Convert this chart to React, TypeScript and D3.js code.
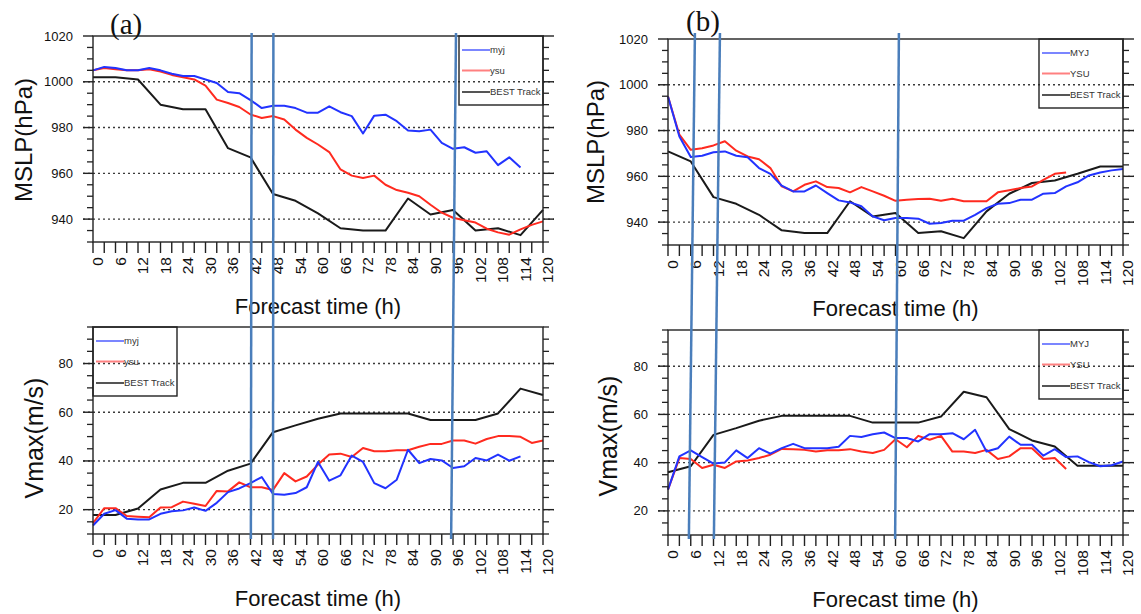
import React from "react";
import * as d3 from "d3";

// ---------- data ----------
const HOURS_MAX = 120;
const STEP_MODEL = 3; // model output every 3 h
const STEP_BEST = 6; // best track every 6 h
const xTickLabels = [0, 6, 12, 18, 24, 30, 36, 42, 48, 54, 60, 66, 72, 78, 84, 90, 96, 102, 108, 114, 120];

const mslpTicks = [940, 960, 980, 1000, 1020];
const vmaxTicks = [20, 40, 60, 80];

// (a) MSLP
const mslpA_myj = [1005, 1006.5, 1006, 1005, 1005, 1006, 1005, 1003.5, 1002.5, 1002.5, 1001, 999.5, 995.5, 995, 992, 988.5, 989.5, 989.5, 988.5, 986.5, 986.5, 989.3, 986.7, 985, 977.4, 985.2, 985.6, 982.8, 978.7, 978.4, 979.1, 973.3, 970.7, 971.4, 969, 969.6, 963.6, 967, 962.5];
const mslpA_ysu = [1005, 1006, 1005.5, 1005, 1005, 1005.5, 1004.5, 1003, 1002, 1001, 998.3, 992.2, 990.7, 989, 985.7, 984.2, 985, 983.5, 979.1, 975.5, 972.6, 969.3, 961.7, 959, 958, 959, 955, 952.7, 951.5, 950, 946.3, 942.8, 940.6, 939.5, 938.5, 935.8, 934.2, 933.2, 935.5, 937.5, 939];
const mslpA_best = [1002, 1002, 1001, 990, 988, 988, 971, 967, 951, 948, 942.5, 936, 935, 935, 949, 942, 944, 935, 936, 933, 944];

// (a) Vmax
const vmaxA_myj = [13.5, 18.3, 19.8, 16.3, 16, 16, 18.3, 19.3, 19.7, 20.9, 19.5, 22.8, 27.2, 28.7, 30.9, 33.4, 26.4, 26.1, 26.8, 29.2, 39.6, 31.9, 34.1, 42.2, 39.6, 30.9, 28.8, 32.3, 44.6, 39.1, 40.8, 40.2, 37.1, 37.8, 41.2, 40.2, 42.6, 40.1, 41.9];
const vmaxA_ysu = [14.5, 20.6, 20.6, 17.4, 17.1, 16.9, 20.9, 21, 23.3, 22.4, 21.5, 27.7, 27.5, 31.2, 29.2, 29.2, 28.1, 35, 31.6, 33.6, 38.5, 42.6, 43, 41.6, 45.3, 44, 44, 44.4, 44.4, 45.8, 47, 47, 48.4, 48.4, 47.1, 49, 50.2, 50.2, 49.9, 47.4, 48.4];
const vmaxA_best = [17.8, 17.8, 20.5, 28.3, 31, 31, 36, 38.9, 51.8, 54.6, 57.3, 59.5, 59.5, 59.5, 59.5, 56.8, 56.8, 56.8, 59.5, 69.7, 67.1];

// (b) MSLP
const mslpB_myj = [994.9, 977.4, 968.4, 969, 970.5, 970.9, 969, 968.3, 963.6, 961.1, 955.9, 953.4, 953.4, 956, 952.7, 949.5, 948.6, 946.9, 942.5, 940.8, 941.8, 941.8, 941.5, 939.3, 939.6, 940.6, 940.6, 943.2, 946.1, 948, 948.3, 949.8, 949.8, 952.4, 952.7, 955.6, 957.4, 960.4, 961.7, 962.6, 963.2];
const mslpB_ysu = [994.9, 978.2, 971.6, 972.3, 973.5, 975.3, 971.2, 968.7, 967.5, 963.6, 955.6, 953.4, 956.3, 957.8, 955.3, 954.9, 953, 955.3, 953.4, 951.5, 949.3, 949.8, 950.1, 950.2, 949.3, 950.2, 949.1, 949.1, 949.1, 953, 953.9, 954.9, 955.6, 958.5, 961.1, 961.7];
const mslpB_best = [970.9, 966.5, 950.9, 948, 943.2, 936.4, 935.2, 935.2, 949.1, 942.5, 944, 935.2, 936, 933, 944.7, 952.4, 957.1, 958.2, 961.1, 964.3, 964.3];

// (b) Vmax
const vmaxB_myj = [28.8, 42.6, 45.1, 42.3, 39.6, 40.1, 45.1, 41.9, 46, 43.7, 46, 47.8, 46, 46, 46, 46.6, 51.1, 50.6, 51.8, 52.5, 50.2, 50.2, 48.8, 51.8, 51.8, 52.2, 49.7, 53.6, 44.6, 46, 50.8, 47.4, 47.4, 42.9, 45.6, 42.3, 42.6, 40.2, 38.5, 38.9, 40.5];
const vmaxB_ysu = [28.8, 41.9, 41.5, 37.8, 39.1, 37.8, 40.5, 40.9, 41.9, 43.3, 45.7, 45.6, 45.3, 44.6, 45.1, 45.1, 45.6, 44.6, 44, 45.3, 49.7, 46.4, 51.1, 49.5, 51.1, 44.6, 44.6, 44, 45.3, 41.5, 42.6, 46, 46, 41.5, 41.9, 37.4];
const vmaxB_best = [36, 38.5, 51.5, 54.3, 57.4, 59.4, 59.4, 59.4, 59.4, 56.6, 56.6, 56.6, 59.1, 69.4, 67.1, 53.9, 49.2, 46.7, 38.7, 38.7, 38.7];

// hand-drawn marker lines (forecast hour at top / bottom)
const markersA = [[42.3, 42.1], [48.1, 48.0], [96.8, 95.5]];
const markersB = [[7.1, 5.5], [13.7, 12.1], [60.9, 59.9]];

const legendA = ["myj", "ysu", "BEST Track"];
const legendB = ["MYJ", "YSU", "BEST Track"];

// ---------- style ----------
const SANS = "'Liberation Sans', Arial, Helvetica, sans-serif";
const SERIF = "'Liberation Serif', 'Times New Roman', serif";
const C_BLUE = "#2233ff";
const C_RED = "#ff2a1f";
const C_BLACK = "#1a1a1a";
const LEG_COLORS = ["#7b86ff", "#ff8080", "#555"];
const C_MARK = "#4a7ebb";

type Panel = {
  x0: number; x1: number; y0: number; y1: number;
  domain: [number, number];
  ticks: number[];
  title: string;
  titleX: number; titleY: number; titleSize: number;
  xTitleY: number;
  legendSide: "left" | "right";
  legend: string[];
  myj: number[]; ysu: number[]; best: number[];
};

const panels: Panel[] = [
  { x0: 93, x1: 543, y0: 36, y1: 242, domain: [930, 1020], ticks: mslpTicks, title: "MSLP(hPa)", titleX: 32, titleY: 140, titleSize: 24, xTitleY: 314, legendSide: "right", legend: legendA, myj: mslpA_myj, ysu: mslpA_ysu, best: mslpA_best },
  { x0: 93, x1: 543, y0: 327, y1: 534, domain: [10, 95], ticks: vmaxTicks, title: "Vmax(m/s)", titleX: 43, titleY: 438, titleSize: 25, xTitleY: 606, legendSide: "left", legend: legendA, myj: vmaxA_myj, ysu: vmaxA_ysu, best: vmaxA_best },
  { x0: 668, x1: 1123, y0: 39, y1: 245, domain: [930, 1020], ticks: mslpTicks, title: "MSLP(hPa)", titleX: 604, titleY: 142, titleSize: 24, xTitleY: 316, legendSide: "right", legend: legendB, myj: mslpB_myj, ysu: mslpB_ysu, best: mslpB_best },
  { x0: 668, x1: 1123, y0: 330, y1: 535, domain: [10, 95], ticks: vmaxTicks, title: "Vmax(m/s)", titleX: 617, titleY: 436, titleSize: 25, xTitleY: 607, legendSide: "right", legend: legendB, myj: vmaxB_myj, ysu: vmaxB_ysu, best: vmaxB_best },
];

function PanelView({ p }: { p: Panel }) {
  const x = d3.scaleLinear().domain([0, HOURS_MAX]).range([p.x0, p.x1]);
  const y = d3.scaleLinear().domain(p.domain).range([p.y1, p.y0]);
  const mk = (arr: number[], step: number) =>
    d3.line<number>().x((_, i) => x(i * step)).y((v) => y(v))(arr) || "";
  const minor = d3.range(p.domain[0], p.domain[1] + 0.01, 5).filter((v) => !p.ticks.includes(v));
  const xMinor = d3.range(0, HOURS_MAX + 0.01, 3);
  const grid = p.ticks.filter((v) => v < p.domain[1]);
  const lw = 84, lh = 69;
  const lx = p.legendSide === "right" ? p.x1 - lw : p.x0;
  const ly = p.y0;
  const entryY = [14, 34.5, 56];
  const cx = (p.x0 + p.x1) / 2;
  return (
    <g>
      {grid.map((v) => (
        <line key={"g" + v} x1={p.x0 - 10} x2={p.x1 + 11} y1={y(v)} y2={y(v)} stroke="#3a3a3a" strokeWidth={1.4} strokeDasharray="2 3" />
      ))}
      <path d={mk(p.best, STEP_BEST)} fill="none" stroke={C_BLACK} strokeWidth={2} strokeLinejoin="round" />
      <path d={mk(p.ysu, STEP_MODEL)} fill="none" stroke={C_RED} strokeWidth={2} strokeLinejoin="round" />
      <path d={mk(p.myj, STEP_MODEL)} fill="none" stroke={C_BLUE} strokeWidth={2} strokeLinejoin="round" />
      <rect x={p.x0} y={p.y0} width={p.x1 - p.x0} height={p.y1 - p.y0} fill="none" stroke="#222" strokeWidth={1.4} />
      {p.ticks.map((v) => (
        <g key={"t" + v}>
          <line x1={p.x0 - 10} x2={p.x0} y1={y(v)} y2={y(v)} stroke="#222" strokeWidth={1.4} />
          <line x1={p.x1} x2={p.x1 + 11} y1={y(v)} y2={y(v)} stroke="#222" strokeWidth={1.4} />
          <text x={p.x0 - 20} y={y(v)} dy="0.35em" textAnchor="end" fontSize={13} fontFamily={SANS} fill="#111">{v}</text>
        </g>
      ))}
      {minor.map((v) => (
        <g key={"m" + v}>
          <line x1={p.x0 - 6} x2={p.x0} y1={y(v)} y2={y(v)} stroke="#222" strokeWidth={1.3} />
          <line x1={p.x1} x2={p.x1 + 6} y1={y(v)} y2={y(v)} stroke="#222" strokeWidth={1.3} />
        </g>
      ))}
      {xMinor.map((t) => (
        <line key={"xm" + t} x1={x(t)} x2={x(t)} y1={p.y1} y2={p.y1 + 11} stroke="#222" strokeWidth={1.4} />
      ))}
      {xTickLabels.map((t) => (
        <text key={"xl" + t} transform={`translate(${x(t) + 5},${p.y1 + 15}) rotate(-90)`} dy="0.35em" textAnchor="end" fontSize={15.5} fontFamily={SANS} fill="#111">{t}</text>
      ))}
      <text x={cx} y={p.xTitleY} textAnchor="middle" fontSize={22} fontFamily={SANS} fill="#111">Forecast time (h)</text>
      <text transform={`translate(${p.titleX},${p.titleY}) rotate(-90)`} textAnchor="middle" fontSize={p.titleSize} fontFamily={SANS} fill="#111">{p.title}</text>
      <rect x={lx} y={ly} width={lw} height={lh} fill="none" stroke="#222" strokeWidth={1.4} />
      {p.legend.map((name, i) => (
        <g key={name}>
          <line x1={lx + 3} x2={lx + 31} y1={ly + entryY[i]} y2={ly + entryY[i]} stroke={LEG_COLORS[i]} strokeWidth={2} />
          <text x={lx + 31} y={ly + entryY[i]} dy="0.35em" fontSize={9.5} fontFamily={SANS} fill="#333">{name}</text>
        </g>
      ))}
    </g>
  );
}

function Markers({ marks, px0, px1 }: { marks: number[][]; px0: number; px1: number }) {
  const x = d3.scaleLinear().domain([0, HOURS_MAX]).range([px0, px1]);
  return (
    <g>
      {marks.map((m, i) => (
        <line key={i} x1={x(m[0])} x2={x(m[1])} y1={33} y2={539} stroke={C_MARK} strokeWidth={2.5} />
      ))}
    </g>
  );
}

export default function App() {
  return (
    <svg width={1141} height={614} style={{ position: "absolute", left: 0, top: 0, background: "#fff" }}>
      <rect x={0} y={0} width={1141} height={614} fill="#fff" />
      {panels.map((p, i) => (
        <PanelView key={i} p={p} />
      ))}
      <text x={110} y={34} fontSize={29} fontFamily={SERIF} fill="#111">(a)</text>
      <text x={686} y={31} fontSize={29} fontFamily={SERIF} fill="#111">(b)</text>
      <Markers marks={markersA} px0={93} px1={543} />
      <Markers marks={markersB} px0={668} px1={1123} />
    </svg>
  );
}
